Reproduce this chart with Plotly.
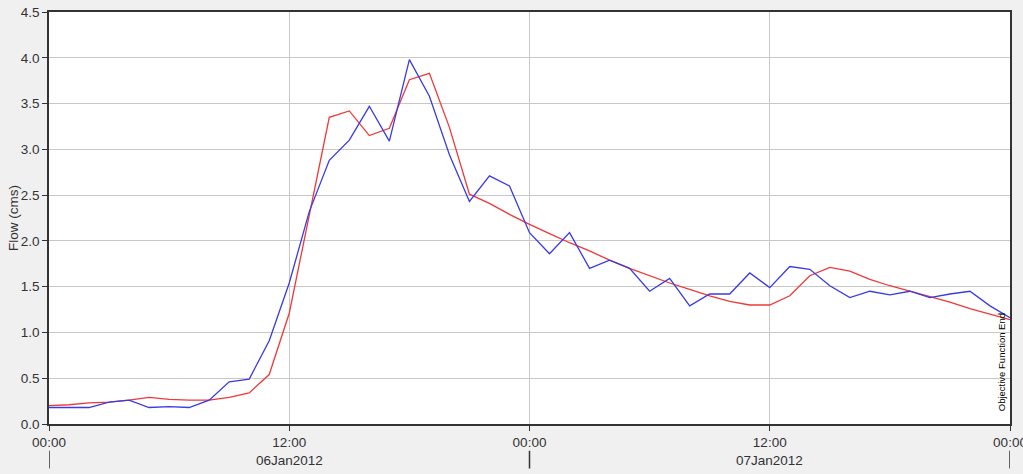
import plotly.graph_objects as go
import pandas as pd

times = pd.date_range("2012-01-06 00:00", periods=49, freq="h")

observed = [0.18, 0.18, 0.18, 0.24, 0.26, 0.18, 0.19, 0.18, 0.26, 0.46,
            0.49, 0.91, 1.54, 2.32, 2.88, 3.10, 3.47, 3.09, 3.98, 3.58,
            2.94, 2.43, 2.71, 2.60, 2.09, 1.86, 2.09, 1.70, 1.79, 1.70,
            1.45, 1.59, 1.29, 1.42, 1.42, 1.65, 1.49, 1.72, 1.69, 1.51,
            1.38, 1.45, 1.41, 1.45, 1.38, 1.42, 1.45, 1.29, 1.16]

computed = [0.20, 0.21, 0.23, 0.24, 0.26, 0.29, 0.27, 0.26, 0.26, 0.29,
            0.34, 0.54, 1.21, 2.28, 3.35, 3.42, 3.15, 3.23, 3.76, 3.83,
            3.24, 2.51, 2.41, 2.29, 2.18, 2.08, 1.98, 1.89, 1.79, 1.70,
            1.62, 1.54, 1.47, 1.40, 1.34, 1.30, 1.30, 1.40, 1.62, 1.71,
            1.67, 1.58, 1.51, 1.45, 1.39, 1.33, 1.26, 1.20, 1.14]

tick_times = ["2012-01-06 00:00", "2012-01-06 12:00", "2012-01-07 00:00",
              "2012-01-07 12:00", "2012-01-08 00:00"]
tick_labels = ["00:00", "12:00", "00:00", "12:00", "00:00"]
date_positions = ["2012-01-06 12:00", "2012-01-07 12:00"]
date_labels = ["06Jan2012", "07Jan2012"]
day_marks = ["2012-01-06 00:00", "2012-01-07 00:00", "2012-01-08 00:00"]

y_ticks = [0.0, 0.5, 1.0, 1.5, 2.0, 2.5, 3.0, 3.5, 4.0, 4.5]

font_fam = "Liberation Sans, Arial, sans-serif"
txt_col = "#333333"

fig = go.Figure()
fig.add_trace(go.Scatter(x=times, y=computed, mode="lines",
                         line=dict(color="#f03838", width=1.3), name="Computed"))
fig.add_trace(go.Scatter(x=times, y=observed, mode="lines",
                         line=dict(color="#3a3ae6", width=1.3), name="Observed"))

fig.update_layout(
    width=1023, height=474,
    margin=dict(l=49, r=13, t=12, b=50, autoexpand=False),
    paper_bgcolor="#f0f0f0", plot_bgcolor="#ffffff",
    showlegend=False,
    font=dict(family=font_fam, size=13.5, color=txt_col),
)
fig.update_xaxes(
    range=[pd.Timestamp(tick_times[0]), pd.Timestamp(tick_times[-1])],
    tickmode="array", tickvals=tick_times, ticktext=tick_labels,
    showgrid=True, gridcolor="#c8c8c8", gridwidth=1,
    showline=True, linecolor="#333333", linewidth=1.5, mirror=True,
    ticks="outside", ticklen=5, tickcolor="#333333",
    tickfont=dict(size=13.5, color=txt_col), zeroline=False,
    automargin=False, ticklabeloverflow="allow",
)
fig.update_yaxes(
    range=[0, 4.5], tickmode="array", tickvals=y_ticks,
    ticktext=[f"{v:.1f}" for v in y_ticks],
    showgrid=True, gridcolor="#c8c8c8", gridwidth=1,
    showline=True, linecolor="#333333", linewidth=1.5, mirror=True,
    ticks="outside", ticklen=5, tickcolor="#333333",
    tickfont=dict(size=13.5, color=txt_col), zeroline=False,
    automargin=False, ticklabeloverflow="allow",
)

fig.add_annotation(x=-0.0375, xref="paper", xanchor="center", y=0.5, yref="paper",
                   text="Flow (cms)", textangle=-90, showarrow=False,
                   font=dict(size=13.5, color=txt_col))

for pos, lab in zip(date_positions, date_labels):
    fig.add_annotation(x=pos, xref="x", y=-0.088, yref="paper", text=lab,
                       showarrow=False, yanchor="middle",
                       font=dict(size=13.5, color=txt_col))
for d in day_marks:
    fig.add_shape(type="line", xref="x", yref="paper", x0=d, x1=d,
                  y0=-0.065, y1=-0.108, line=dict(color="#333333", width=1.5))

fig.add_annotation(x=tick_times[-1], xref="x", y=0.025, yref="paper",
                   text="Objective Function End", textangle=-90,
                   showarrow=False, xanchor="right", yanchor="bottom", xshift=-1,
                   font=dict(size=9.5, color="#000000"))

fig.write_html("out.html", config={"displayModeBar": False},
               post_script="document.body.style.margin='0';document.body.style.overflow='hidden';")
